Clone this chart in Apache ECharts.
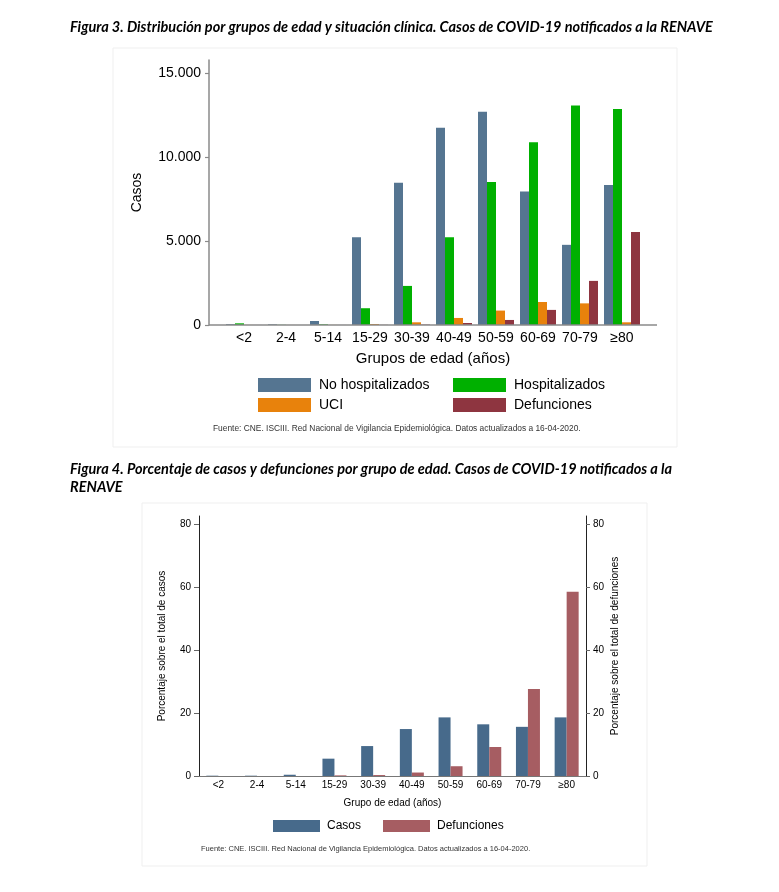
<!DOCTYPE html>
<html>
<head>
<meta charset="utf-8">
<script src="https://cdn.jsdelivr.net/npm/echarts@6/dist/echarts.min.js"></script>
<style>html,body{margin:0;padding:0;background:#fff}#c{width:779px;height:892px}</style>
</head>
<body>
<div id="c"></div>
<script>
// ---- data ----
const categories = ['<2','2-4','5-14','15-29','30-39','40-49','50-59','60-69','70-79','≥80'];
const noHospitalizados = [50, 40, 240, 5230, 8480, 11760, 12720, 7960, 4780, 8340];
const hospitalizados   = [100, 10, 40, 1000, 2330, 5230, 8520, 10900, 13090, 12880];
const uci              = [5, 2, 5, 60, 160, 420, 860, 1370, 1290, 160];
const defunciones      = [2, 1, 2, 10, 25, 120, 300, 900, 2630, 5550];
const fig3Ticks = [0, 5000, 10000, 15000];

const pctCasos       = [0.1, 0.1, 0.4, 5.5, 9.5, 14.9, 18.6, 16.4, 15.6, 18.6];
const pctDefunciones = [0.0, 0.0, 0.0, 0.2, 0.3, 1.1, 3.1, 9.2, 27.6, 58.5];
const fig4Ticks = [0, 20, 40, 60, 80];

// ---- layout ----
const FONT = "'Liberation Sans', Arial, sans-serif";
const TFONT = "Lato, 'Open Sans', sans-serif";
const g1 = {left: 223, top: 60, width: 420, height: 265};
const g2 = {left: 199, top: 516, width: 387, height: 260};
const axisGrey = '#8a8a8a';
const fmtThousands = v => String(v).replace(/\B(?=(\d{3})+(?!\d))/g, '.');

const chart = echarts.init(document.getElementById('c'), null, {renderer: 'canvas'});

function legendItem(name, left, top, fs, w, h, gapPad) {
  return {
    data: [name], left: left, top: top, padding: 0, itemWidth: w, itemHeight: h,
    icon: 'rect', selectedMode: false,
    textStyle: {fontFamily: FONT, fontSize: fs, color: '#000', padding: [0,0,0,gapPad]}
  };
}

const option = {
  backgroundColor: '#fff',
  animation: false,
  title: [
    {text: 'Figura 3. Distribución por grupos de edad y situación clínica. Casos de COVID-19 notificados a la RENAVE',
     left: 70, top: 20, padding: 0,
     textStyle: {fontFamily: TFONT, fontSize: 14.5, fontWeight: 'bold', fontStyle: 'italic', color: '#000'}},
    {text: 'Figura 4. Porcentaje de casos y defunciones por grupo de edad. Casos de COVID-19 notificados a la\nRENAVE',
     left: 70, top: 460, padding: 0,
     textStyle: {fontFamily: TFONT, fontSize: 14.5, fontWeight: 'bold', fontStyle: 'italic', color: '#000', lineHeight: 18}},
    {text: 'Fuente: CNE. ISCIII. Red Nacional de Vigilancia Epidemiológica. Datos actualizados a 16-04-2020.',
     left: 213, top: 425, padding: 0,
     textStyle: {fontFamily: FONT, fontSize: 8.4, fontWeight: 'normal', color: '#333'}},
    {text: 'Fuente: CNE. ISCIII. Red Nacional de Vigilancia Epidemiológica. Datos actualizados a 16-04-2020.',
     left: 201, top: 845, padding: 0,
     textStyle: {fontFamily: FONT, fontSize: 7.5, fontWeight: 'normal', color: '#333'}}
  ],
  legend: [
    legendItem('No hospitalizados', 258, 378, 14, 53, 14, 3),
    legendItem('Hospitalizados', 453, 378, 14, 53, 14, 3),
    legendItem('UCI', 258, 398, 14, 53, 14, 3),
    legendItem('Defunciones', 453, 398, 14, 53, 14, 3),
    legendItem('Casos', 273, 820, 12, 47, 12, 2),
    legendItem('Defunciones %', 383, 820, 12, 47, 12, 2)
  ],
  grid: [
    Object.assign({containLabel: false}, g1),
    Object.assign({containLabel: false}, g2)
  ],
  xAxis: [
    {type: 'category', gridIndex: 0, data: categories,
     axisLine: {show: false}, axisTick: {show: false},
     axisLabel: {fontFamily: FONT, fontSize: 14, color: '#000', margin: 6, interval: 0},
     name: 'Grupos de edad (años)', nameLocation: 'middle', nameGap: 26,
     nameTextStyle: {fontFamily: FONT, fontSize: 15, color: '#000'}},
    {type: 'category', gridIndex: 1, data: categories,
     axisLine: {show: true, lineStyle: {color: '#777', width: 1}}, axisTick: {show: false},
     axisLabel: {fontFamily: FONT, fontSize: 10, color: '#000', margin: 4, interval: 0},
     name: 'Grupo de edad (años)', nameLocation: 'middle', nameGap: 22,
     nameTextStyle: {fontFamily: FONT, fontSize: 10, color: '#000'}}
  ],
  yAxis: [
    {type: 'value', gridIndex: 0, min: 0, max: 15800, offset: 14,
     splitLine: {show: false},
     axisLine: {show: true, lineStyle: {color: axisGrey, width: 1.5}},
     axisTick: {show: true, length: 4, lineStyle: {color: axisGrey, width: 1.2}, customValues: fig3Ticks},
     axisLabel: {fontFamily: FONT, fontSize: 14, color: '#000', margin: 8, customValues: fig3Ticks,
                 formatter: v => fmtThousands(v)},
     name: 'Casos', nameLocation: 'middle', nameGap: 65, nameRotate: 90,
     nameTextStyle: {fontFamily: FONT, fontSize: 14, color: '#000'}},
    {type: 'value', gridIndex: 1, min: 0, max: 82.5, position: 'left',
     splitLine: {show: false},
     axisLine: {show: true, lineStyle: {color: '#222', width: 1}},
     axisTick: {show: true, length: 5, lineStyle: {color: '#666'}, customValues: fig4Ticks},
     axisLabel: {fontFamily: FONT, fontSize: 10, color: '#000', margin: 8, customValues: fig4Ticks},
     name: 'Porcentaje sobre el total de casos', nameLocation: 'middle', nameGap: 32, nameRotate: 90,
     nameTextStyle: {fontFamily: FONT, fontSize: 10, color: '#000'}},
    {type: 'value', gridIndex: 1, min: 0, max: 82.5, position: 'right',
     splitLine: {show: false},
     axisLine: {show: true, lineStyle: {color: '#222', width: 1}},
     axisTick: {show: true, length: 4, lineStyle: {color: '#666'}, customValues: fig4Ticks},
     axisLabel: {fontFamily: FONT, fontSize: 10, color: '#000', margin: 7, customValues: fig4Ticks},
     name: 'Porcentaje sobre el total de defunciones', nameLocation: 'middle', nameGap: 24, nameRotate: 90,
     nameTextStyle: {fontFamily: FONT, fontSize: 10, color: '#000'}}
  ],
  series: [
    {name: 'No hospitalizados', type: 'bar', xAxisIndex: 0, yAxisIndex: 0, data: noHospitalizados,
     barWidth: 9, barGap: '0%', itemStyle: {color: '#557591'}},
    {name: 'Hospitalizados', type: 'bar', xAxisIndex: 0, yAxisIndex: 0, data: hospitalizados,
     barWidth: 9, barGap: '0%', itemStyle: {color: '#00b000'}},
    {name: 'UCI', type: 'bar', xAxisIndex: 0, yAxisIndex: 0, data: uci,
     barWidth: 9, barGap: '0%', itemStyle: {color: '#e8820c'}},
    {name: 'Defunciones', type: 'bar', xAxisIndex: 0, yAxisIndex: 0, data: defunciones,
     barWidth: 9, barGap: '0%', itemStyle: {color: '#8e3540'}},
    {name: 'Casos', type: 'bar', xAxisIndex: 1, yAxisIndex: 1, data: pctCasos,
     barWidth: 12, barGap: '0%', itemStyle: {color: '#476a8b'}},
    {name: 'Defunciones %', type: 'bar', xAxisIndex: 1, yAxisIndex: 2, data: pctDefunciones,
     barWidth: 12, barGap: '0%', itemStyle: {color: '#a65d62'}}
  ],
  graphic: [
    {type: 'rect', shape: {x: 113, y: 48, width: 564, height: 399}, style: {fill: 'none', stroke: '#efefef', lineWidth: 1}, z: -1},
    {type: 'rect', shape: {x: 142, y: 503, width: 505, height: 363}, style: {fill: 'none', stroke: '#efefef', lineWidth: 1}, z: -1},
    {type: 'line', shape: {x1: g1.left - 14, y1: g1.top + g1.height, x2: g1.left + g1.width + 14, y2: g1.top + g1.height},
     style: {stroke: axisGrey, lineWidth: 1.5}, z: 10}
  ]
};
option.legend[5].formatter = () => 'Defunciones';
chart.setOption(option);
</script>
</body>
</html>
